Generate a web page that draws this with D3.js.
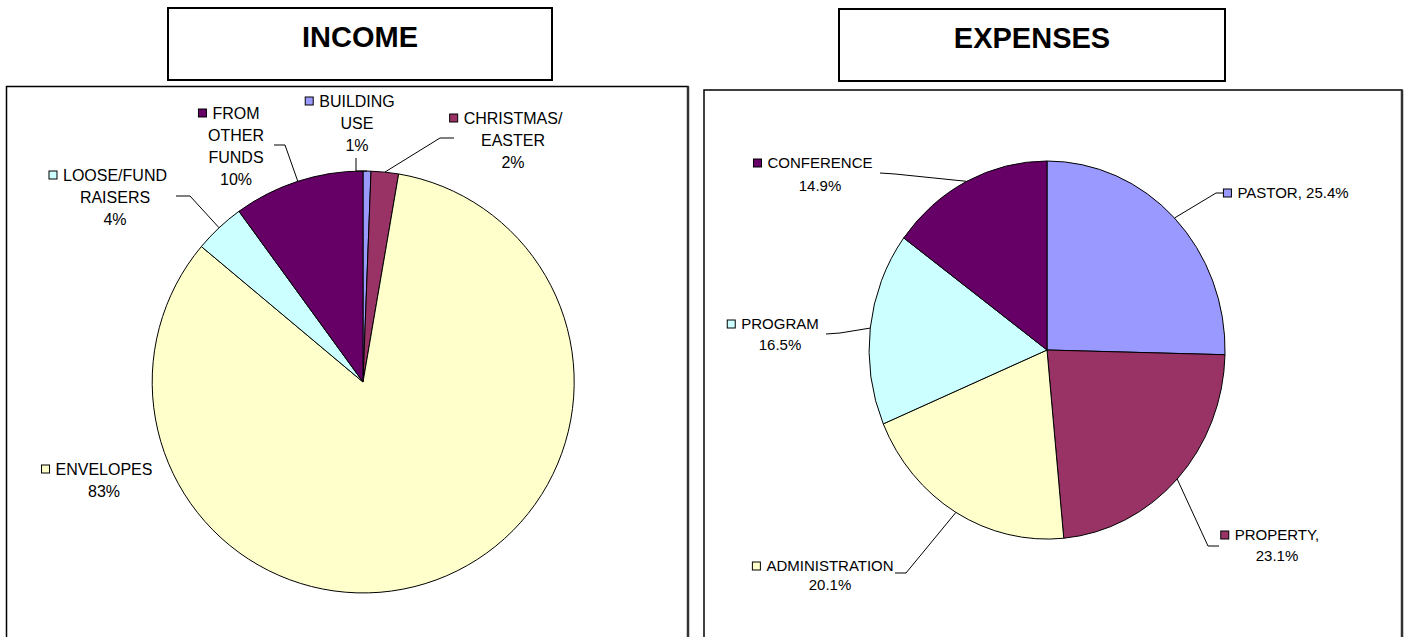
<!DOCTYPE html>
<html>
<head>
<meta charset="utf-8">
<script src="https://cdn.jsdelivr.net/npm/d3@7"></script>
<style>
  body { margin: 0; background: #fff; }
  text { font-family: Arial, "Liberation Sans", sans-serif; fill: #000; }
</style>
</head>
<body>
<script>
// data
const colors = ["#9999FF", "#993366", "#FFFFCC", "#CCFFFF", "#660066"];

const incomeCats = [["BUILDING", "USE"], ["CHRISTMAS/", "EASTER"], ["ENVELOPES"], ["LOOSE/FUND", "RAISERS"], ["FROM", "OTHER", "FUNDS"]];
const incomeValues = [0.6, 2.1, 83.4, 3.9, 10.0];

const expenseCats = [["PASTOR,"], ["PROPERTY,"], ["ADMINISTRATION"], ["PROGRAM"], ["CONFERENCE"]];
const expenseValues = [25.4, 23.1, 20.1, 16.5, 14.9];

// label layout: centre x, first line centre y, line step, leader points (label side first)
const incomeLayout = [
  {cx: 357, cy: 101, step: 22, lead: [[356, 158], [356, 171]]},
  {cx: 513, cy: 118, step: 22, lead: [[454, 138], [440, 138]]},
  {cx: 104, cy: 469, step: 22, lead: null},
  {cx: 115, cy: 175, step: 22, lead: [[176, 196], [190, 196]]},
  {cx: 236, cy: 113, step: 22, lead: [[274, 145], [285, 145]]}
];
const expenseLayout = [
  {cx: 1293, cy: 193, step: 22, inline: true, lead: [[1226, 193], [1216, 193]]},
  {cx: 1277, cy: 535, step: 21, lead: [[1219, 546], [1208, 546]]},
  {cx: 830, cy: 566, step: 19, lead: [[895, 573], [906, 573]]},
  {cx: 780, cy: 324, step: 21, lead: [[826, 334], [840, 333]]},
  {cx: 820, cy: 163, step: 23, lead: [[880, 173], [895, 174]]}
];

const W = 1409, H = 637;
const svg = d3.select("body").append("svg")
  .attr("width", W).attr("height", H);

// outer frames
function frame(x0, y0, x1) {
  svg.append("rect")
    .attr("x", x0).attr("y", y0)
    .attr("width", x1 - x0).attr("height", H + 20)
    .attr("fill", "none").attr("stroke", "#000").attr("stroke-width", 1.5);
  svg.append("line")
    .attr("x1", x1).attr("x2", x1).attr("y1", y0).attr("y2", H)
    .attr("stroke", "#333").attr("stroke-width", 2.5);
}
frame(6.5, 86.5, 688);
frame(704, 90, 1402);

// title boxes
function titleBox(x0, y0, x1, y1, label) {
  svg.append("rect")
    .attr("x", x0).attr("y", y0)
    .attr("width", x1 - x0).attr("height", y1 - y0)
    .attr("fill", "#fff").attr("stroke", "#000").attr("stroke-width", 2);
  svg.append("text")
    .attr("x", (x0 + x1) / 2).attr("y", y0 + 39)
    .attr("text-anchor", "middle")
    .attr("font-size", 29).attr("font-weight", "bold")
    .text(label);
}
titleBox(168, 8, 552, 80, "INCOME");
titleBox(839, 9, 1225, 81, "EXPENSES");

function drawPie(cats, values, layout, cx, cy, rx, ry, fmt, fontSize) {
  const pie = d3.pie().sort(null).value(d => d);
  const arcs = pie(values);
  const arc = d3.arc().innerRadius(0).outerRadius(1);

  const g = svg.append("g")
    .attr("transform", "translate(" + cx + "," + cy + ") scale(" + rx + "," + ry + ")");
  g.selectAll("path")
    .data(arcs)
    .enter().append("path")
    .attr("d", arc)
    .attr("fill", (d, i) => colors[i])
    .attr("stroke", "#000")
    .attr("stroke-width", 1)
    .attr("vector-effect", "non-scaling-stroke");

  arcs.forEach(function (a, i) {
    const L = layout[i];
    const mid = (a.startAngle + a.endAngle) / 2;
    const edge = [cx + rx * Math.sin(mid), cy - ry * Math.cos(mid)];

    if (L.lead) {
      svg.append("path")
        .datum(L.lead.concat([edge]))
        .attr("d", d3.line())
        .attr("fill", "none")
        .attr("stroke", "#000")
        .attr("stroke-width", 1);
    }

    const pct = fmt(values[i] / 100);
    let lines = cats[i].slice();
    if (L.inline) lines[lines.length - 1] += " " + pct;
    else lines.push(pct);

    const texts = lines.map(function (t, k) {
      return svg.append("text")
        .attr("x", L.cx)
        .attr("y", L.cy + k * L.step + fontSize * 0.36)
        .attr("text-anchor", "middle")
        .attr("font-size", fontSize)
        .text(t);
    });

    // legend key before first line
    const w = texts[0].node().getComputedTextLength();
    svg.append("rect")
      .attr("x", L.cx - w / 2 - 14)
      .attr("y", L.cy - 4)
      .attr("width", 8).attr("height", 8)
      .attr("fill", colors[i])
      .attr("stroke", "#000")
      .attr("stroke-width", 1);
  });
}

drawPie(incomeCats, incomeValues, incomeLayout, 363, 382, 211, 211, d3.format(".0%"), 16);
drawPie(expenseCats, expenseValues, expenseLayout, 1047, 350, 178, 189, d3.format(".1%"), 15);
</script>
</body>
</html>
